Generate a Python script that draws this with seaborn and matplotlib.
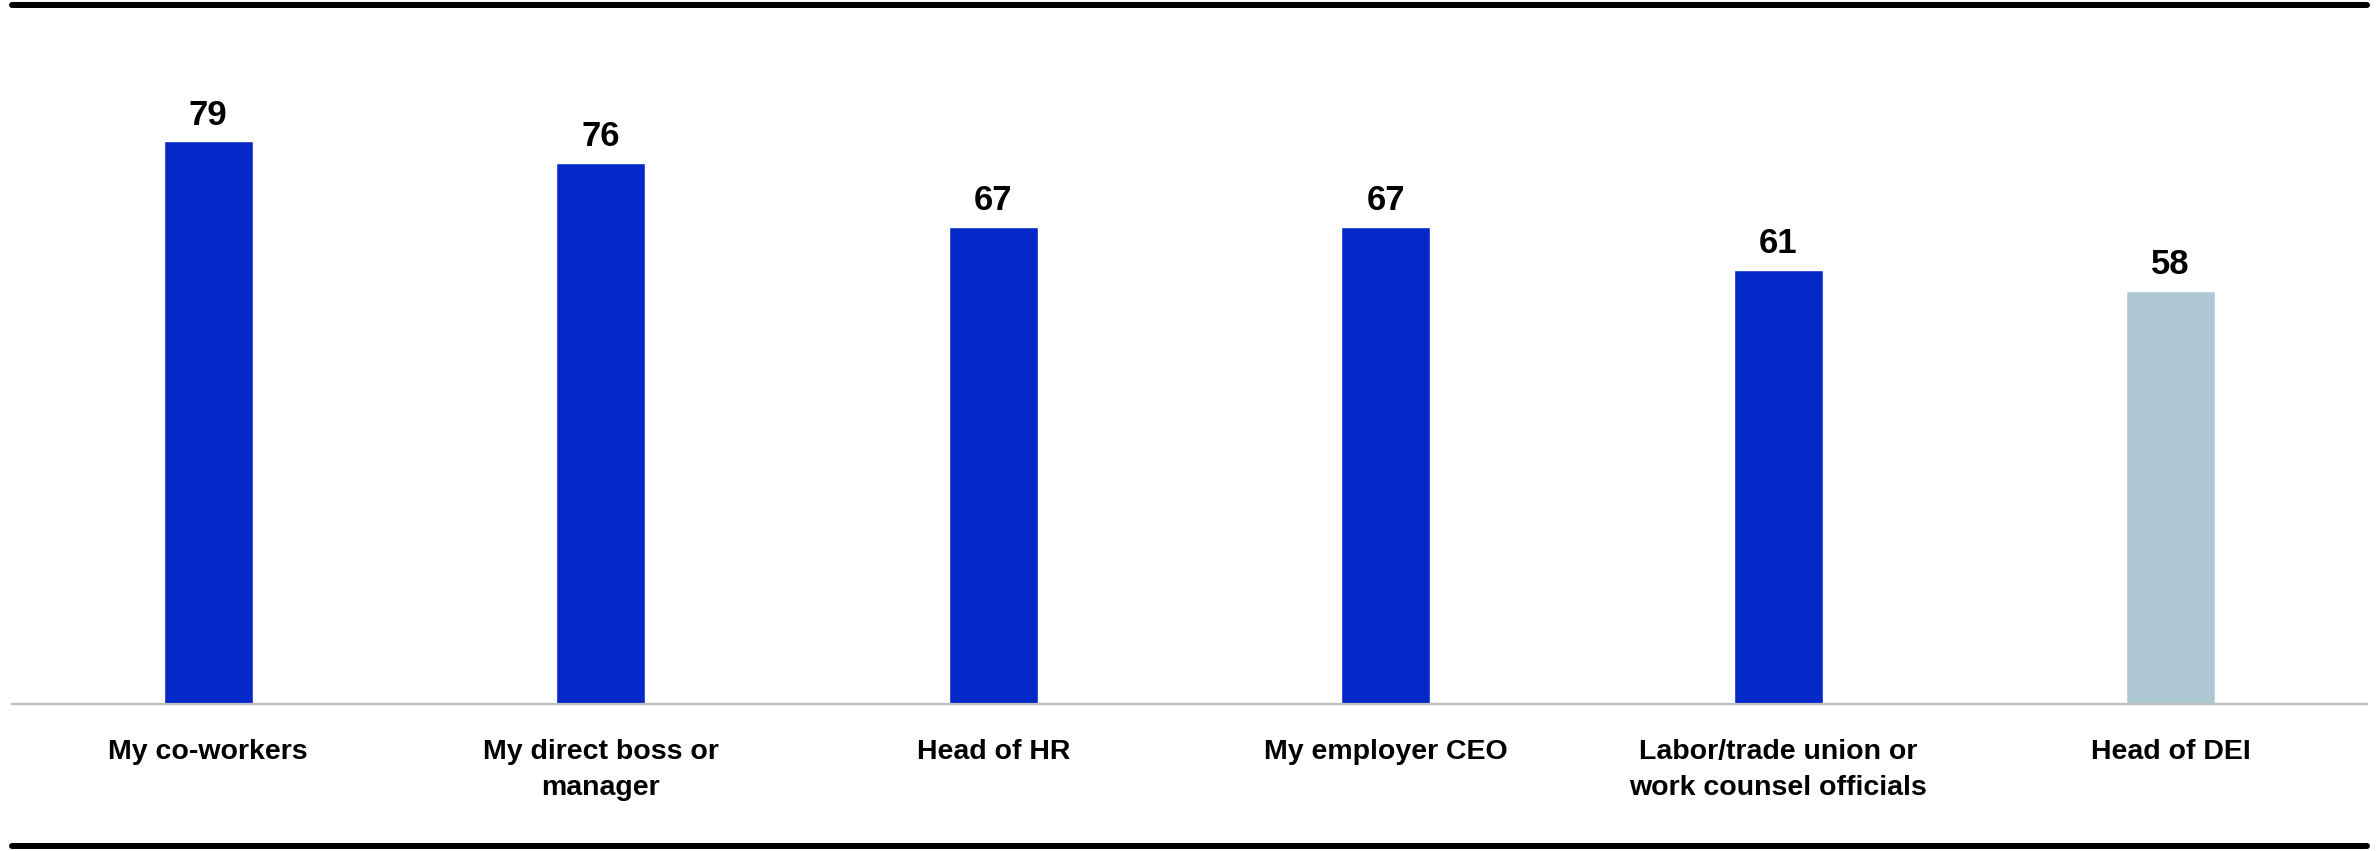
import matplotlib
matplotlib.use("Agg")
import matplotlib.pyplot as plt
from matplotlib.lines import Line2D
import seaborn as sns

# Share of respondents who trust each group
categories = [
    "My co-workers",
    "My direct boss or\nmanager",
    "Head of HR",
    "My employer CEO",
    "Labor/trade union or\nwork counsel officials",
    "Head of DEI",
]
values = [79, 76, 67, 67, 61, 58]
bar_colors = ["#0529C9", "#0529C9", "#0529C9", "#0529C9", "#0529C9", "#AFC9D4"]

sns.set_theme(style="white")
plt.rcParams["font.family"] = ["Liberation Sans", "DejaVu Sans"]
plt.rcParams["font.weight"] = "bold"

fig = plt.figure(figsize=(23.79, 8.51), dpi=100)
ax = fig.add_axes([12 / 2379, 1 - 704 / 851, (2367 - 12) / 2379, (704 - 63) / 851])

sns.barplot(
    x=categories, y=values, hue=categories,
    palette=dict(zip(categories, bar_colors)),
    width=0.228, legend=False, saturation=1, ax=ax,
)

for container in ax.containers:
    ax.bar_label(container, fmt="%d", padding=7, fontsize=25,
                 fontweight="bold", color="black")

ax.set_xlim(-0.5, 5.5)
ax.set_ylim(0, 90)
ax.set_yticks([])
ax.set_xlabel("")
ax.set_ylabel("")
for side in ["top", "left", "right"]:
    ax.spines[side].set_visible(False)
ax.spines["bottom"].set_color("#BFBFBF")
ax.spines["bottom"].set_linewidth(1.6)
ax.tick_params(axis="x", length=0, pad=25)
for lbl in ax.get_xticklabels():
    lbl.set_fontsize(20.5)
    lbl.set_fontweight("bold")
    lbl.set_color("black")
    lbl.set_linespacing(1.5)

# Heavy rules framing the chart top and bottom
fig.add_artist(Line2D([12 / 2379, 2367 / 2379], [1 - 5 / 851, 1 - 5 / 851],
                      color="black", linewidth=4.3, transform=fig.transFigure))
fig.add_artist(Line2D([12 / 2379, 2367 / 2379], [1 - 846 / 851, 1 - 846 / 851],
                      color="black", linewidth=4.3, transform=fig.transFigure))

fig.savefig("out.png", dpi=100, facecolor="white")
